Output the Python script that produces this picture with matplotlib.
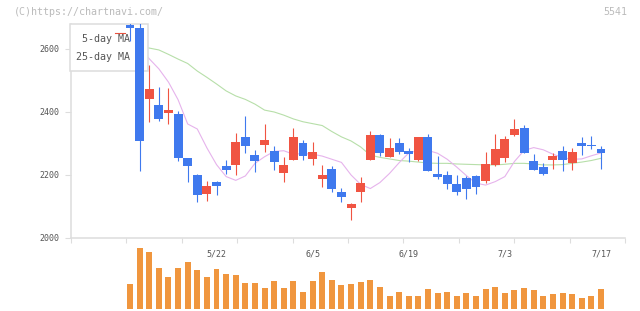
import matplotlib
matplotlib.use("Agg")
import matplotlib.pyplot as plt
import numpy as np
from matplotlib.patches import Rectangle
from matplotlib.lines import Line2D

# daily prices (50 sessions)
opens = [2677, 2666, 2442, 2421, 2398, 2393, 2254, 2200, 2141, 2178,
         2229, 2233, 2321, 2263, 2296, 2276, 2207, 2248, 2302, 2251,
         2187, 2219, 2146, 2095, 2146, 2248, 2328, 2257, 2302, 2276,
         2248, 2321, 2203, 2200, 2171, 2190, 2196, 2181, 2233, 2255,
         2328, 2349, 2244, 2225, 2249, 2276, 2239, 2302, 2296, 2283]
highs = [2690, 2690, 2548, 2479, 2476, 2403, 2255, 2204, 2181, 2182,
         2248, 2333, 2387, 2279, 2362, 2292, 2257, 2350, 2311, 2305,
         2232, 2229, 2159, 2112, 2194, 2340, 2331, 2317, 2317, 2286,
         2321, 2330, 2260, 2214, 2200, 2196, 2200, 2273, 2330, 2324,
         2378, 2359, 2267, 2238, 2271, 2292, 2286, 2321, 2324, 2292]
lows = [2624, 2214, 2369, 2372, 2362, 2243, 2179, 2115, 2118, 2137,
        2204, 2201, 2271, 2210, 2273, 2217, 2179, 2248, 2248, 2232,
        2163, 2147, 2114, 2057, 2114, 2248, 2261, 2257, 2267, 2242,
        2243, 2214, 2188, 2156, 2137, 2124, 2141, 2176, 2229, 2242,
        2325, 2271, 2217, 2201, 2219, 2214, 2217, 2264, 2284, 2220]
closes = [2666, 2309, 2473, 2379, 2406, 2253, 2230, 2137, 2165, 2165,
          2217, 2305, 2293, 2245, 2311, 2242, 2232, 2322, 2261, 2274,
          2200, 2156, 2130, 2108, 2175, 2328, 2270, 2286, 2273, 2268,
          2321, 2214, 2195, 2170, 2147, 2157, 2163, 2235, 2283, 2314,
          2346, 2271, 2217, 2204, 2260, 2249, 2273, 2293, 2293, 2271]

ma5 = [2640, 2605, 2569, 2537, 2495, 2439, 2362, 2346, 2286, 2233,
       2195, 2183, 2197, 2237, 2258, 2275, 2277, 2266, 2268, 2266,
       2260, 2250, 2240, 2200, 2170, 2157, 2176, 2205, 2239, 2270,
       2278, 2278, 2269, 2250, 2225, 2198, 2174, 2168, 2179, 2195,
       2243, 2278, 2287, 2280, 2266, 2255, 2250, 2251, 2261, 2270]
ma25 = [2610, 2607, 2603, 2597, 2583, 2568, 2554, 2530, 2510, 2489,
        2467, 2451, 2440, 2425, 2406, 2400, 2390, 2378, 2369, 2363,
        2357, 2338, 2321, 2308, 2289, 2263, 2256, 2251, 2246, 2244,
        2241, 2238, 2237, 2237, 2235, 2234, 2233, 2232, 2232, 2234,
        2237, 2237, 2235, 2232, 2232, 2233, 2237, 2241, 2246, 2253]

volume = [25300, 61300, 57300, 41300, 32300, 41300, 47300, 39300, 32300, 40300,
          35300, 34300, 26300, 26300, 21300, 28300, 21300, 28300, 17300, 28300,
          37300, 29300, 24300, 25300, 27300, 29300, 22300, 13300, 17300, 13300,
          13300, 20300, 16300, 17300, 13300, 16300, 13300, 20300, 22300, 16300,
          19300, 21300, 19300, 13300, 15300, 16300, 15300, 11300, 13300, 20300]

date_pos = [9, 19, 29, 39, 49]
date_labels = ["5/22", "6/5", "6/19", "7/3", "7/17"]
price_ticks = [2000, 2200, 2400, 2600]

UP = "#f05442"
DOWN = "#3f79ee"
GRID = "#dddddd"
TXT = "#555555"
FONT = "DejaVu Sans Mono"

W, H = 640, 311
def fx(x):
    return x / W
def fy(y):
    return 1 - y / H

x = np.arange(len(opens))
o = np.array(opens); c = np.array(closes)
up = c >= o
cols = np.where(up, UP, DOWN)

fig = plt.figure(figsize=(6.4, 3.11), dpi=100)
ax = fig.add_axes([fx(71), fy(238), (625 - 71) / W, (238 - 23.8) / H])
axv = fig.add_axes([fx(71), fy(309), (625 - 71) / W, (309 - 245) / H])

# moving averages (under the legend box)
ax.plot(x, ma25, color="#b7dfa9", lw=0.8, zorder=2)
ax.plot(x, ma5, color="#e6b3ec", lw=0.8, zorder=2)

# candles
ax.vlines(x, lows, highs, colors=cols, lw=0.8, zorder=4)
body = np.where(np.abs(c - o) < 3, 3, c - o)
ax.bar(x, body, bottom=o, width=0.93, color=cols, zorder=4)

ax.set_xlim(-6.14, 51.5)
ax.set_ylim(2000, 2680)
for s in ["top", "right"]:
    ax.spines[s].set_visible(False)
for s in ["left", "bottom"]:
    ax.spines[s].set_color(GRID)
    ax.spines[s].set_linewidth(1.1)
ax.set_yticks(price_ticks)
ax.set_yticklabels([str(p) for p in price_ticks])
ax.tick_params(axis="y", length=4.3, width=0.8, color=GRID, pad=4.3,
               labelsize=6, labelcolor=TXT)
ax.set_xticks(date_pos)
ax.set_xticklabels(date_labels)
ax.set_xticks(np.linspace(-6.14, 51.5, 11), minor=True)
ax.tick_params(axis="x", which="major", length=0, pad=8.5, labelsize=6, labelcolor=TXT)
ax.tick_params(axis="x", which="minor", length=3.6, width=0.8, color=GRID)
for lab in ax.get_xticklabels() + ax.get_yticklabels():
    lab.set_family(FONT)

# legend box
ax.add_patch(Rectangle((fx(70), fy(71)), 78 / W, 47 / H, transform=fig.transFigure,
                       facecolor="white", edgecolor=GRID, lw=1.1, zorder=3, clip_on=False))
ax.text(fx(130), fy(39.5), "5-day MA", transform=fig.transFigure, ha="right", va="center",
        fontsize=7.2, family=FONT, color=TXT, zorder=3.5)
ax.text(fx(130), fy(57), "25-day MA", transform=fig.transFigure, ha="right", va="center",
        fontsize=7.2, family=FONT, color=TXT, zorder=3.5)
ax.add_line(Line2D([fx(115), fx(124.5)], [fy(33), fy(33)], transform=fig.transFigure,
                   color="#e8523f", lw=0.8, zorder=3.5, clip_on=False))

# volume
axv.bar(x, volume, width=0.62, color="#f0963e")
axv.set_xlim(-6.14, 51.5)
axv.set_ylim(0, 64000)
axv.axis("off")

fig.text(fx(14), fy(12), "(C)https://chartnavi.com/", ha="left", va="center",
         fontsize=7.2, family=FONT, color="#bbbbbb")
fig.text(fx(627), fy(12), "5541", ha="right", va="center",
         fontsize=7.2, family=FONT, color="#bbbbbb")

fig.savefig("out.png", dpi=100)
